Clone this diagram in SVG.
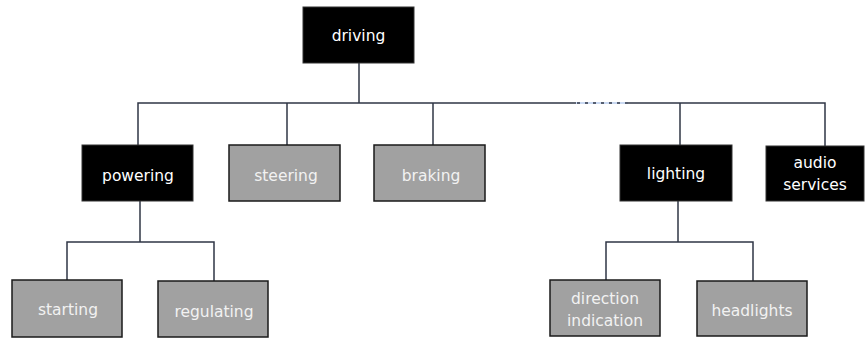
<svg xmlns="http://www.w3.org/2000/svg" width="867" height="338" viewBox="0 0 867 338">
  <style>
    .dark rect { fill: #000; stroke: #333; stroke-width: 1; }
    .grey rect { fill: #a1a1a1; stroke: #1a1a1a; stroke-width: 1.5; }
    text { font-family: "DejaVu Sans", Verdana, sans-serif; font-size: 15.5px; text-anchor: middle; }
    .dark text { fill: #ffffff; }
    .grey text { fill: #f2f2f2; }
    .link { fill: none; stroke: #2f3645; stroke-width: 1.5; }
    .gap-base { fill: none; stroke: #b8cdee; stroke-width: 1.5; }
    .gap { fill: none; stroke: #2f3645; stroke-width: 1.5; stroke-dasharray: 3 5; }
  </style>

  <g id="connectors">
    <!-- root to first level -->
    <line class="link" x1="359" y1="63" x2="359" y2="103"/>
    <polyline class="link" points="138,145 138,103 576,103"/>
    <line class="gap-base" x1="576" y1="103" x2="628" y2="103"/>
    <line class="gap" x1="577" y1="103" x2="628" y2="103"/>
    <polyline class="link" points="628,103 825,103 825,146"/>
    <line class="link" x1="287" y1="103" x2="287" y2="145"/>
    <line class="link" x1="433" y1="103" x2="433" y2="145"/>
    <line class="link" x1="680" y1="103" x2="680" y2="145"/>
    <!-- powering subtree -->
    <line class="link" x1="140" y1="201" x2="140" y2="242"/>
    <polyline class="link" points="67,280 67,242 214,242 214,281"/>
    <!-- lighting subtree -->
    <line class="link" x1="678" y1="201" x2="678" y2="242"/>
    <polyline class="link" points="606,280 606,242 753,242 753,281"/>
  </g>

  <g id="driving" class="dark">
    <rect x="303" y="7" width="111" height="56"/>
    <text x="358.5" y="41">driving</text>
  </g>

  <g id="powering" class="dark">
    <rect x="82" y="145" width="111" height="56"/>
    <text x="138" y="181">powering</text>
  </g>

  <g id="steering" class="grey">
    <rect x="229" y="145" width="111" height="56"/>
    <text x="286" y="181">steering</text>
  </g>

  <g id="braking" class="grey">
    <rect x="374" y="145" width="111" height="56"/>
    <text x="431" y="181">braking</text>
  </g>

  <g id="lighting" class="dark">
    <rect x="620" y="145" width="112" height="56"/>
    <text x="676" y="179">lighting</text>
  </g>

  <g id="audio-services" class="dark">
    <rect x="766" y="146" width="98" height="55"/>
    <text x="815" y="168">audio</text>
    <text x="815" y="190">services</text>
  </g>

  <g id="starting" class="grey">
    <rect x="12" y="280" width="110" height="57"/>
    <text x="68" y="315">starting</text>
  </g>

  <g id="regulating" class="grey">
    <rect x="158" y="281" width="110" height="56"/>
    <text x="214" y="317">regulating</text>
  </g>

  <g id="direction-indication" class="grey">
    <rect x="550" y="280" width="110" height="56"/>
    <text x="605" y="304">direction</text>
    <text x="605" y="326">indication</text>
  </g>

  <g id="headlights" class="grey">
    <rect x="697" y="281" width="110" height="55"/>
    <text x="752" y="316">headlights</text>
  </g>
</svg>
